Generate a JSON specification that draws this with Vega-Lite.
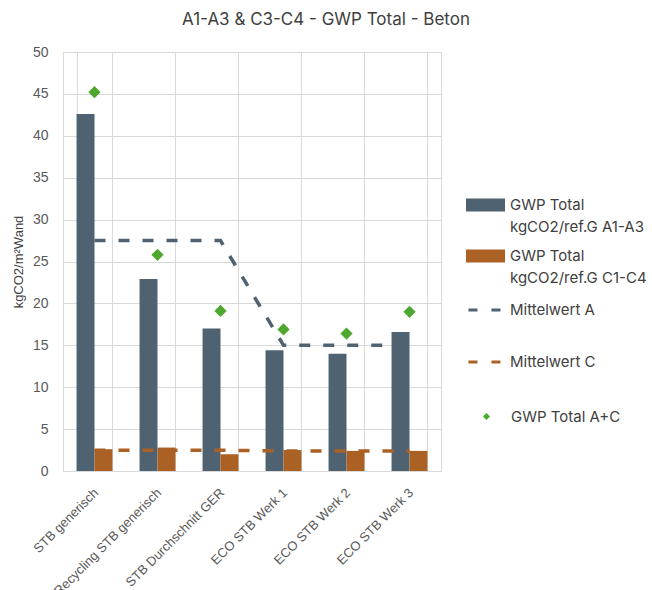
{
  "$schema": "https://vega.github.io/schema/vega-lite/v6.json",
  "autosize": {"type": "none"},
  "width": 378,
  "height": 419,
  "padding": {"left": 63, "top": 52, "right": 211, "bottom": 119},
  "background": "white",
  "title": {"text": "A1-A3 & C3-C4 - GWP Total - Beton", "font": "Inter", "fontSize": 17, "fontWeight": "normal", "color": "#404040", "anchor": "middle", "offset": 16, "dx": 74},
  "config": {
    "view": {"stroke": "#d9d9d9"},
    "axis": {"gridColor": "#d9d9d9", "gridWidth": 1, "ticks": false, "labelFont": "Liberation Sans", "labelColor": "#595959"},
    "legend": {"labelFont": "Inter", "labelFontSize": 15, "labelColor": "#404040", "labelLimit": 200, "title": null}
  },
  "datasets": {
    "bars": [
      {"cat": "STB generisch", "series": "GWP Total|kgCO2/ref.G A1-A3", "value": 42.6},
      {"cat": "Recycling STB generisch", "series": "GWP Total|kgCO2/ref.G A1-A3", "value": 22.9},
      {"cat": "STB Durchschnitt GER", "series": "GWP Total|kgCO2/ref.G A1-A3", "value": 17.0},
      {"cat": "ECO STB Werk 1", "series": "GWP Total|kgCO2/ref.G A1-A3", "value": 14.4},
      {"cat": "ECO STB Werk 2", "series": "GWP Total|kgCO2/ref.G A1-A3", "value": 14.0},
      {"cat": "ECO STB Werk 3", "series": "GWP Total|kgCO2/ref.G A1-A3", "value": 16.6},
      {"cat": "STB generisch", "series": "GWP Total|kgCO2/ref.G C1-C4", "value": 2.6},
      {"cat": "Recycling STB generisch", "series": "GWP Total|kgCO2/ref.G C1-C4", "value": 2.8},
      {"cat": "STB Durchschnitt GER", "series": "GWP Total|kgCO2/ref.G C1-C4", "value": 2.0},
      {"cat": "ECO STB Werk 1", "series": "GWP Total|kgCO2/ref.G C1-C4", "value": 2.5},
      {"cat": "ECO STB Werk 2", "series": "GWP Total|kgCO2/ref.G C1-C4", "value": 2.4},
      {"cat": "ECO STB Werk 3", "series": "GWP Total|kgCO2/ref.G C1-C4", "value": 2.4}
    ],
    "means": [
      {"cat": "STB generisch", "series": "Mittelwert A", "value": 27.5},
      {"cat": "Recycling STB generisch", "series": "Mittelwert A", "value": 27.5},
      {"cat": "STB Durchschnitt GER", "series": "Mittelwert A", "value": 27.5},
      {"cat": "ECO STB Werk 1", "series": "Mittelwert A", "value": 15.0},
      {"cat": "ECO STB Werk 2", "series": "Mittelwert A", "value": 15.0},
      {"cat": "ECO STB Werk 3", "series": "Mittelwert A", "value": 15.0},
      {"cat": "STB generisch", "series": "Mittelwert C", "value": 2.47},
      {"cat": "Recycling STB generisch", "series": "Mittelwert C", "value": 2.47},
      {"cat": "STB Durchschnitt GER", "series": "Mittelwert C", "value": 2.47},
      {"cat": "ECO STB Werk 1", "series": "Mittelwert C", "value": 2.4},
      {"cat": "ECO STB Werk 2", "series": "Mittelwert C", "value": 2.4},
      {"cat": "ECO STB Werk 3", "series": "Mittelwert C", "value": 2.4}
    ],
    "totals": [
      {"cat": "STB generisch", "series": "GWP Total A+C", "value": 45.2},
      {"cat": "Recycling STB generisch", "series": "GWP Total A+C", "value": 25.8},
      {"cat": "STB Durchschnitt GER", "series": "GWP Total A+C", "value": 19.1},
      {"cat": "ECO STB Werk 1", "series": "GWP Total A+C", "value": 16.9},
      {"cat": "ECO STB Werk 2", "series": "GWP Total A+C", "value": 16.4},
      {"cat": "ECO STB Werk 3", "series": "GWP Total A+C", "value": 19.0}
    ]
  },
  "encoding": {
    "x": {
      "field": "cat", "type": "nominal",
      "sort": ["STB generisch", "Recycling STB generisch", "STB Durchschnitt GER", "ECO STB Werk 1", "ECO STB Werk 2", "ECO STB Werk 3"],
      "scale": {"paddingInner": 0.43, "paddingOuter": 0.215},
      "axis": {"title": null, "labelAngle": -45, "labelFontSize": 13, "labelPadding": 15, "labelOffset": -3, "domainColor": "#d9d9d9", "grid": true, "tickBand": "extent", "labelLimit": 200}
    },
    "y": {
      "field": "value", "type": "quantitative",
      "scale": {"domain": [0, 50], "nice": false},
      "axis": {"title": "kgCO2/m²Wand", "titleFont": "Liberation Sans", "titleFontSize": 13, "titleFontWeight": "normal", "titleColor": "#404040", "titlePadding": 7, "values": [0, 5, 10, 15, 20, 25, 30, 35, 40, 45, 50], "labelFontSize": 14, "labelPadding": 15, "domain": false, "grid": true}
    }
  },
  "layer": [
    {
      "data": {"name": "bars"},
      "mark": {"type": "bar"},
      "encoding": {
        "xOffset": {"field": "series", "type": "nominal", "scale": {"paddingInner": 0, "paddingOuter": 0}},
        "color": {
          "field": "series", "type": "nominal",
          "scale": {"domain": ["GWP Total|kgCO2/ref.G A1-A3", "GWP Total|kgCO2/ref.G C1-C4"], "range": ["#4E6272", "#AB6124"]},
          "legend": {
            "orient": "none", "legendX": 409.5, "legendY": 140,
            "labelExpr": "split(datum.label, '|')",
            "symbolType": "M-1.5,-0.5H1.5V0.5H-1.5Z", "symbolSize": 676, "symbolStrokeWidth": 0,
            "labelOffset": 11.5, "rowPadding": 8,
            "encode": {"labels": {"update": {"lineHeight": {"value": 22}}}}
          }
        }
      }
    },
    {
      "data": {"name": "means"},
      "mark": {"type": "line", "strokeWidth": 3.5, "strokeDash": [11, 13]},
      "encoding": {
        "stroke": {
          "field": "series", "type": "nominal",
          "scale": {"domain": ["Mittelwert A", "Mittelwert C"], "range": ["#4E6272", "#AB6124"]},
          "legend": {
            "orient": "none", "legendX": 403.5, "legendY": 238,
            "symbolType": "stroke", "symbolSize": 1300, "symbolStrokeWidth": 3, "symbolDash": [9, 14],
            "labelOffset": 3.5, "rowPadding": 24
          }
        }
      }
    },
    {
      "data": {"name": "totals"},
      "mark": {"type": "point", "filled": true, "size": 150, "opacity": 1, "color": "#4EA72E"},
      "encoding": {
        "shape": {
          "field": "series", "type": "nominal",
          "scale": {"domain": ["GWP Total A+C"], "range": ["diamond"]},
          "legend": {
            "orient": "none", "legendX": 416, "legendY": 357,
            "symbolSize": 50, "symbolFillColor": "#4EA72E", "symbolStrokeWidth": 0,
            "labelOffset": 17
          }
        }
      }
    }
  ]
}
